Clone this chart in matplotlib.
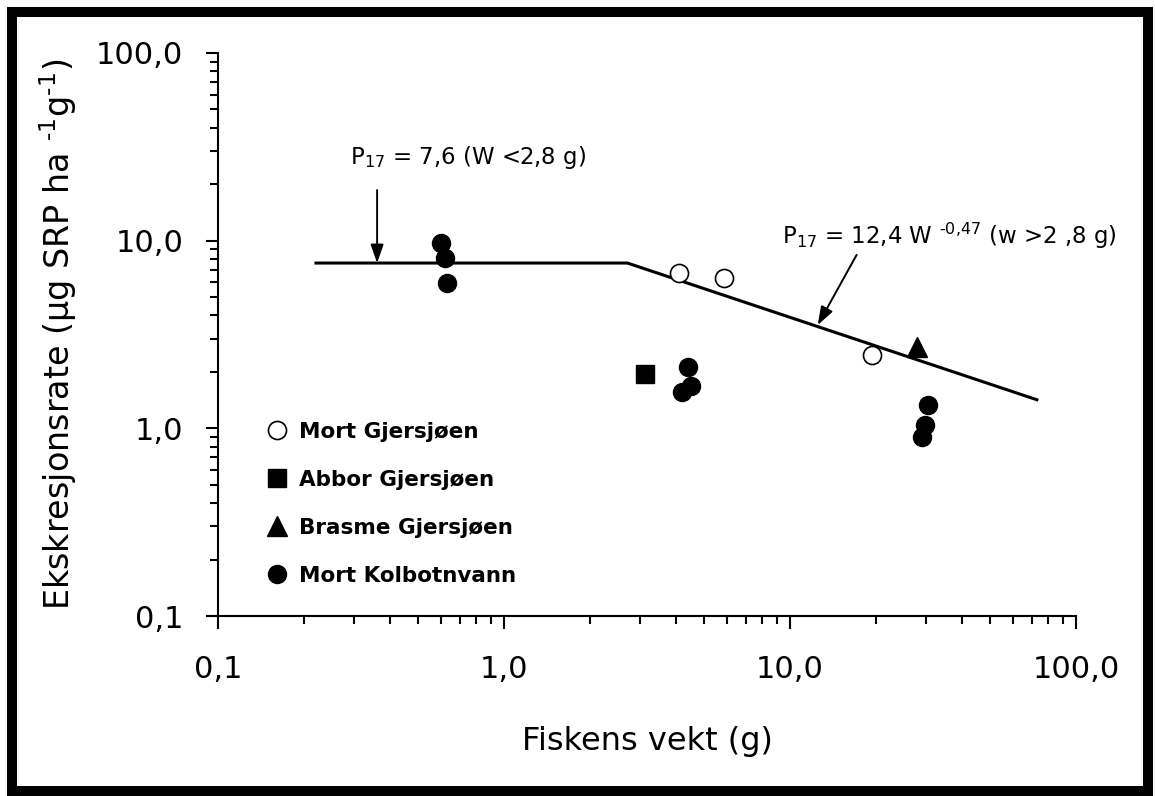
"""Fish P-excretion vs body weight, log-log with piecewise model."""

import matplotlib.pyplot as plt
from matplotlib.patches import Rectangle
from matplotlib.ticker import FixedLocator, FixedFormatter, LogLocator, NullFormatter

plt.rcParams.update({
    "font.family": ["DejaVu Sans"],
    "mathtext.fontset": "custom",
    "mathtext.rm": "DejaVu Sans",
    "mathtext.default": "regular",
})

# fish weight (g) / excretion (µg SRP h-1 g-1)
mort_gj_w = [4.1, 5.9, 19.4]
mort_gj_p = [6.7, 6.3, 2.46]
abbor_w = [3.1]
abbor_p = [1.95]
brasme_w = [27.8]
brasme_p = [2.71]
mort_kb_w = [0.60, 0.62, 0.63, 4.4, 4.2, 4.5, 30.4, 29.6, 28.9]
mort_kb_p = [9.7, 8.1, 5.95, 2.12, 1.56, 1.68, 1.33, 1.04, 0.90]

# model line: constant below 2,8 g, power law above
model_w = [0.22, 2.7, 73.0]
model_p = [7.6, 7.6, 1.42]

ticks = [0.1, 1, 10, 100]
tick_labels = ["0,1", "1,0", "10,0", "100,0"]

W, H = 1155, 796
fig = plt.figure(figsize=(W / 100, H / 100), dpi=100)
ax = fig.add_axes([218 / W, 1 - 616 / H, (1076 - 218) / W, (616 - 53) / H])

ax.set_xscale("log")
ax.set_yscale("log")
ax.set_xlim(0.1, 100)
ax.set_ylim(0.1, 100)

ax.plot(model_w, model_p, color="black", lw=2.2, zorder=2)

ms = 13
ax.plot(mort_gj_w, mort_gj_p, ls="none", marker="o", ms=ms, mfc="white",
        mec="black", mew=1.2, label="Mort Gjersjøen", zorder=3)
ax.plot(abbor_w, abbor_p, ls="none", marker="s", ms=ms, color="black",
        label="Abbor Gjersjøen", zorder=3)
ax.plot(brasme_w, brasme_p, ls="none", marker="^", ms=ms + 1, color="black",
        label="Brasme Gjersjøen", zorder=3)
ax.plot(mort_kb_w, mort_kb_p, ls="none", marker="o", ms=ms, color="black",
        label="Mort Kolbotnvann", zorder=3)

arrow = dict(arrowstyle="-|>,head_length=0.8,head_width=0.28", color="black",
             lw=1.4, shrinkA=0, shrinkB=0, mutation_scale=14)
ax.annotate("", xy=(0.36, 7.6), xytext=(0.36, 18.6), arrowprops=arrow)
ax.annotate("", xy=(12.5, 3.55), xytext=(17.1, 8.4), arrowprops=arrow)

ax.text(0.289, 27.9, r"P$_{17}$ = 7,6 (W <2,8 g)", fontsize=16.5,
        ha="left", va="center")
ax.text(9.38, 10.6, "P$_{17}$ = 12,4 W $^{\u20100{,}47}$ (w >2 ,8 g)",
        fontsize=16.5, ha="left", va="center")

ax.legend(loc="upper left", bbox_to_anchor=(0.056, 0.345), frameon=False,
          numpoints=1, handlelength=1.0, handletextpad=0.55, borderpad=0,
          borderaxespad=0, labelspacing=1.3,
          prop={"weight": "bold", "size": 15.5})

for axis in (ax.xaxis, ax.yaxis):
    axis.set_major_locator(FixedLocator(ticks))
    axis.set_major_formatter(FixedFormatter(tick_labels))
    axis.set_minor_locator(LogLocator(base=10, subs=range(2, 10)))
    axis.set_minor_formatter(NullFormatter())

ax.tick_params(which="major", direction="out", length=9, width=1.5,
               labelsize=22, pad=16, colors="black")
ax.tick_params(axis="x", which="major", pad=19)
ax.tick_params(which="minor", direction="out", length=6, width=1.5)

for side in ("top", "right"):
    ax.spines[side].set_visible(False)
for side in ("left", "bottom"):
    ax.spines[side].set_linewidth(1.5)

ax.set_xlabel("Fiskens vekt (g)", fontsize=23, labelpad=30)
ax.set_ylabel("Ekskresjonsrate (µg SRP ha $^{\u20101}$g$^{\u20101}$)",
              fontsize=24, labelpad=12)

# thick black frame round the whole picture
fig.patches.append(Rectangle((12 / W, 1 - 791 / H), (1148 - 12) / W,
                             (791 - 12) / H, transform=fig.transFigure,
                             fill=False, edgecolor="black", lw=7.2))

fig.savefig("out.png", dpi=100)
